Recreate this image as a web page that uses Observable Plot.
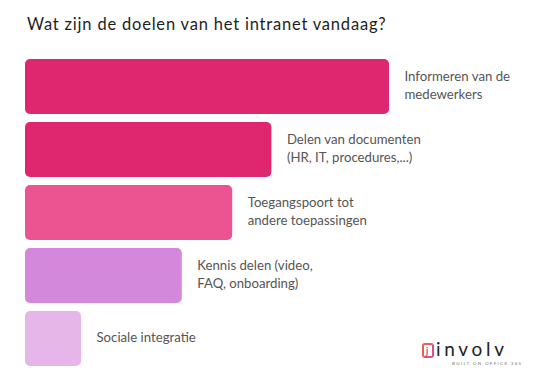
<!DOCTYPE html>
<html>
<head>
<meta charset="utf-8">
<script src="https://cdn.jsdelivr.net/npm/d3@7"></script>
<script src="https://cdn.jsdelivr.net/npm/@observablehq/plot@0.6"></script>
<style>
  html, body { margin: 0; padding: 0; background: #fff; }
  #wrap { position: relative; width: 551px; height: 379px; overflow: hidden; font-family: Lato, "Open Sans", sans-serif; }
  #title { height: 45px; box-sizing: border-box; padding: 15px 0 0 27px; font-size: 16.5px; letter-spacing: 0.8px; color: #1e1e1e; line-height: 18px; }
  #logo { position: absolute; left: 422px; top: 341px; width: 110px; height: 26px; }
  #logo .icon { position: absolute; left: 0; top: 2px; width: 8px; height: 11px; border: 2px solid #e8586a; border-color: #ec5a5a #d94f8a #d94f8a #ec5a5a; border-radius: 3px; }
  #logo .icon span { position: absolute; left: 2px; top: 0px; font-size: 9px; line-height: 11px; color: #e0405f; font-weight: bold; }
  #logo .word { position: absolute; left: 14px; top: 0px; font-size: 19px; letter-spacing: 3.7px; color: #222; font-family: Lato, sans-serif; line-height: 15px; height: 15px; }
  #logo .sub { position: absolute; left: 30px; top: 20px; font-size: 4.6px; line-height: 5px; letter-spacing: 1.25px; color: #777; white-space: nowrap; }
</style>
</head>
<body>
<div id="wrap">
  <div id="title">Wat zijn de doelen van het intranet vandaag?</div>
  <div id="chart"></div>
  <div id="logo"><div class="icon"><span>j</span></div><div class="word">involv</div><div class="sub">BUILT ON OFFICE 365</div></div>
</div>
<script>
const categories = [
  "Informeren van de\nmedewerkers",
  "Delen van documenten\n(HR, IT, procedures,...)",
  "Toegangspoort tot\nandere toepassingen",
  "Kennis delen (video,\nFAQ, onboarding)",
  "Sociale integratie"
];
const values = [65, 44, 37, 28, 10];
const colors = ["#df2770", "#df2770", "#eb5490", "#d488db", "#e6b6e8"];

const data = categories.map((c, i) => ({category: c, value: values[i], color: colors[i]}));

const chart = Plot.plot({
  width: 551,
  height: 334,
  marginTop: 4.5,
  marginBottom: 3.5,
  marginLeft: 25,
  marginRight: 22,
  style: {fontFamily: 'Lato, "Open Sans", sans-serif', background: "#fff"},
  x: {domain: [0, 90], axis: null},
  y: {domain: categories, axis: null, padding: 0.134},
  marks: [
    Plot.barX(data, {y: "category", x: "value", fill: "color", rx: 5}),
    Plot.text(data, {
      y: "category", x: "value", text: "category",
      dx: 15, dy: -3, textAnchor: "start", fontSize: 13.2, fill: "#555",
      lineHeight: 1.38, letterSpacing: 0.55
    })
  ]
});
document.getElementById("chart").appendChild(chart);
</script>
</body>
</html>
